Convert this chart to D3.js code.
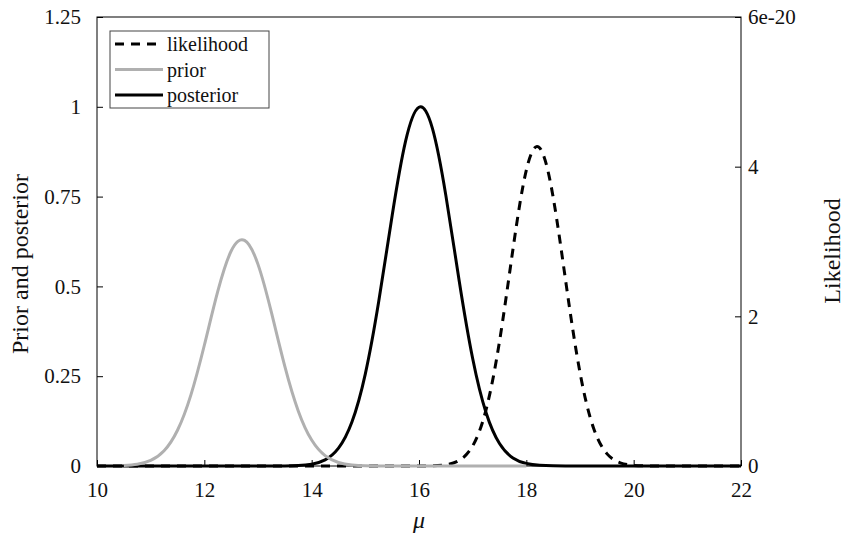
<!DOCTYPE html>
<html>
<head>
<meta charset="utf-8">
<script src="https://cdn.jsdelivr.net/npm/d3@7"></script>
<style>
body { margin: 0; background: #fff; }
text { font-family: "Liberation Serif", "Times New Roman", serif; fill: #111; }
</style>
</head>
<body>
<div id="chart"></div>
<script>
// sample grid for mu
const mu = [10, 10.25, 10.5, 10.75, 11, 11.25, 11.5, 11.75, 12, 12.25, 12.5, 12.75,
            13, 13.25, 13.5, 13.75, 14, 14.25, 14.5, 14.75, 15, 15.25, 15.5, 15.75,
            16, 16.25, 16.5, 16.75, 17, 17.25, 17.5, 17.75, 18, 18.25, 18.5, 18.75,
            19, 19.25, 19.5, 19.75, 20, 20.25, 20.5, 20.75, 21, 21.25, 21.5, 21.75, 22];

// prior (left axis), null where the grey line is not drawn
const prior = [null, null, 0.0013, 0.0048, 0.0155, 0.0425, 0.0995, 0.1981, 0.3362, 0.4859, 0.5985, 0.628,
               0.5613, 0.4275, 0.2773, 0.1534, 0.0722, 0.029, 0.0099, 0.0029, 0.0007, 0.0002, 0, 0,
               0, 0, 0, 0, 0, 0, 0, 0, 0, null, null, null,
               null, null, null, null, null, null, null, null, null, null, null, null, null];

// posterior (left axis)
const posterior = [0, 0, 0, 0, 0, 0, 0, 0, 0, 0, 0, 0,
                   0, 0, 0.0003, 0.0013, 0.0051, 0.0172, 0.0497, 0.1224, 0.2566, 0.4584, 0.6976, 0.9044,
                   0.9988, 0.9398, 0.7534, 0.5145, 0.2993, 0.1484, 0.0627, 0.0225, 0.0069, 0.0018, 0.0004, 0.0001,
                   0, 0, 0, 0, 0, 0, 0, 0, 0, 0, 0, 0, 0];

// likelihood (right axis), in units of 1e-20
const likelihood = [0, 0, 0, 0, 0, 0, 0, 0, 0, 0, 0, 0,
                    0, 0, 0, 0, 0, 0, 0, 0, 0, 0, 0, 0,
                    0.0004, 0.0028, 0.0164, 0.0749, 0.2679, 0.7528, 1.664, 2.893, 3.954, 4.25, 3.591, 2.387,
                    1.247, 0.5125, 0.1656, 0.0421, 0.0084, 0.0013, 0.0002, 0, 0, 0, 0, 0, 0];

const xTicks = [10, 12, 14, 16, 18, 20, 22];
const leftTicks = [0, 0.25, 0.5, 0.75, 1, 1.25];
const rightTicks = [0, 2, 4, 6];
const rightTickLabels = ['0', '2', '4', '6e-20'];
const legendNames = ['likelihood', 'prior', 'posterior'];

function curveChart() {
    let margin = {top: 17, right: 105, bottom: 70, left: 97},
        width = 846,
        height = 536;

    function chart(selector) {
        const w = width - margin.left - margin.right,
              h = height - margin.top - margin.bottom;

        const root = d3.select(selector)
            .append('svg')
            .attr('width', width)
            .attr('height', height);

        const svg = root.append('g')
            .attr('transform', `translate(${margin.left},${margin.top})`);

        // scales
        const x = d3.scaleLinear([10, 22], [0, w]);
        const yLeft = d3.scaleLinear([0, 1.25], [h, 0]);
        const yRight = d3.scaleLinear([0, 6], [h, 0]);

        // frame
        svg.append('rect')
            .attr('width', w)
            .attr('height', h)
            .attr('fill', 'none')
            .attr('stroke', '#000')
            .attr('stroke-width', 1);

        // axes, ticks pointing inward
        const xAxis = svg.append('g')
            .attr('transform', `translate(0,${h})`)
            .call(d3.axisBottom(x).tickValues(xTicks).tickSizeInner(-6).tickSizeOuter(0).tickPadding(16));
        const lAxis = svg.append('g')
            .call(d3.axisLeft(yLeft).tickValues(leftTicks).tickFormat(d => d)
                .tickSizeInner(-6).tickSizeOuter(0).tickPadding(16));
        const rAxis = svg.append('g')
            .attr('transform', `translate(${w},0)`)
            .call(d3.axisRight(yRight).tickValues(rightTicks).tickFormat((d, i) => rightTickLabels[i])
                .tickSizeInner(-6).tickSizeOuter(0).tickPadding(7));

        [xAxis, lAxis, rAxis].forEach(a => {
            a.attr('font-size', 21).attr('font-family', null);
            a.select('.domain').remove();
        });

        // curves
        const pts = vals => mu.map((m, i) => ({m: m, v: vals[i]}));
        const lineL = d3.line()
            .defined(d => d.v != null)
            .x(d => x(d.m))
            .y(d => yLeft(d.v))
            .curve(d3.curveNatural);
        const lineR = d3.line()
            .x(d => x(d.m))
            .y(d => yRight(d.v))
            .curve(d3.curveNatural);

        svg.append('path')
            .datum(pts(posterior))
            .attr('d', lineL)
            .attr('fill', 'none')
            .attr('stroke', '#000')
            .attr('stroke-width', 3);

        svg.append('path')
            .datum(pts(likelihood))
            .attr('d', lineR)
            .attr('fill', 'none')
            .attr('stroke', '#000')
            .attr('stroke-width', 3)
            .attr('stroke-dasharray', '9,7');

        svg.append('path')
            .datum(pts(prior))
            .attr('d', lineL)
            .attr('fill', 'none')
            .attr('stroke', '#b0b0b0')
            .attr('stroke-width', 3);

        // legend
        const styles = [
            {stroke: '#000', dash: '9,7'},
            {stroke: '#b0b0b0', dash: null},
            {stroke: '#000', dash: null}
        ];
        const legend = root.append('g').attr('transform', 'translate(110,31)');
        legend.append('rect')
            .attr('width', 159)
            .attr('height', 77)
            .attr('fill', '#fff')
            .attr('stroke', '#444')
            .attr('stroke-width', 1);
        const item = legend.selectAll('.item')
            .data(legendNames)
            .enter()
            .append('g')
            .attr('class', 'item')
            .attr('transform', (d, i) => `translate(0,${13 + i * 25.5})`);
        item.append('line')
            .attr('x1', 5)
            .attr('x2', 53)
            .attr('stroke', (d, i) => styles[i].stroke)
            .attr('stroke-width', 3)
            .attr('stroke-dasharray', (d, i) => styles[i].dash);
        item.append('text')
            .attr('x', 57)
            .attr('dy', '0.35em')
            .attr('font-size', 20)
            .text(d => d);

        // axis titles
        root.append('text')
            .attr('transform', 'translate(28,264) rotate(-90)')
            .attr('text-anchor', 'middle')
            .attr('font-size', 24)
            .text('Prior and posterior');
        root.append('text')
            .attr('transform', 'translate(840,251) rotate(-90)')
            .attr('text-anchor', 'middle')
            .attr('font-size', 24)
            .text('Likelihood');
        root.append('text')
            .attr('x', margin.left + w / 2)
            .attr('y', 528)
            .attr('text-anchor', 'middle')
            .attr('font-size', 24)
            .attr('font-style', 'italic')
            .text('μ');
    }

    chart.margin = function(_) {
        if (!arguments.length) return margin;
        margin = _;
        return chart;
    };

    return chart;
}

curveChart()('#chart');
</script>
</body>
</html>
